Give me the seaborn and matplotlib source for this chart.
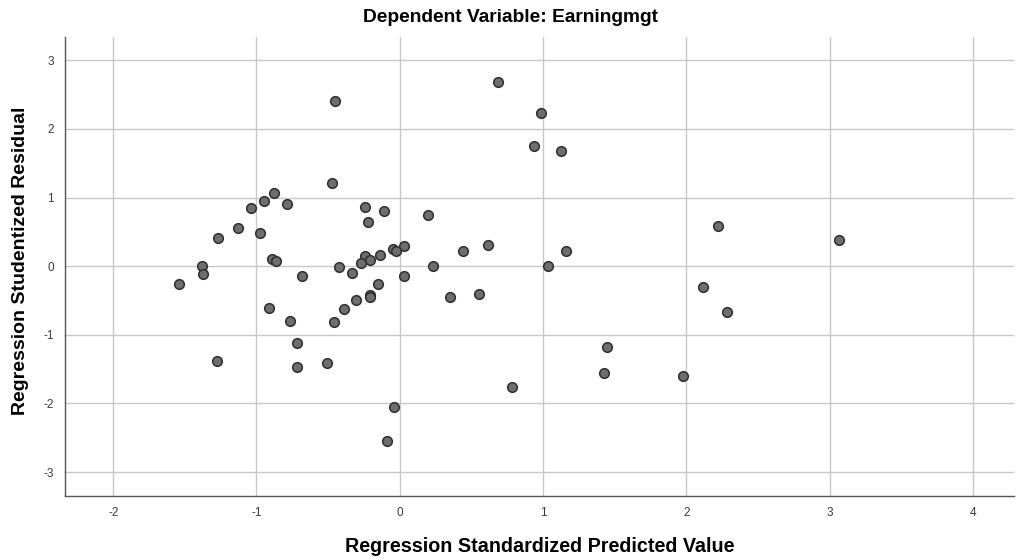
import matplotlib
matplotlib.use("Agg")
import matplotlib.pyplot as plt
import pandas as pd
import seaborn as sns

# Regression standardized predicted value (x) and studentized residual (y)
pred = [-0.451, 0.684, -0.470, -0.877, -0.947, -1.038, -0.786, -0.242, -0.107,
        -0.221, 0.195, -1.130, -0.977, -1.270, 0.028, -0.047, -0.028, -0.140,
        -0.246, -0.207, -0.268, -0.889, -0.865, 0.440, 0.614, -1.382, -0.424,
        0.235, -0.684, -0.335, 0.032, -1.375,
        0.984, 0.939, 1.128, 2.219, 3.066, 1.158, 1.033,
        -1.538, -0.154, -0.209, -0.209, -0.303, -0.387, -0.914, -0.765, -0.458,
        0.349, 0.551, -0.714, -1.277, -0.714, -0.509, 0.782, -0.040, -0.091,
        2.119, 2.284, 1.447, 1.428, 1.975]
resid = [2.41, 2.68, 1.21, 1.07, 0.946, 0.854, 0.912, 0.863, 0.80,
         0.645, 0.738, 0.553, 0.490, 0.403, 0.287, 0.252, 0.214, 0.156,
         0.146, 0.087, 0.044, 0.102, 0.082, 0.218, 0.306, 0.005, -0.01,
         0.0, -0.136, -0.097, -0.141, -0.116,
         2.23, 1.75, 1.68, 0.592, 0.388, 0.223, 0.005,
         -0.267, -0.257, -0.422, -0.456, -0.50, -0.621, -0.616, -0.805, -0.815,
         -0.456, -0.412, -1.125, -1.383, -1.47, -1.412, -1.761, -2.057, -2.547,
         -0.306, -0.665, -1.174, -1.562, -1.606]

x_ticks = [-2, -1, 0, 1, 2, 3, 4]
y_ticks = [-3, -2, -1, 0, 1, 2, 3]

df = pd.DataFrame({"pred": pred, "resid": resid})

sns.set_style("white")
plt.rcParams["font.family"] = ["Liberation Sans", "DejaVu Sans"]
plt.rcParams["text.color"] = "black"
plt.rcParams["axes.labelcolor"] = "black"

fig = plt.figure(figsize=(10.17, 5.58), dpi=100)
ax = fig.add_axes([0.064, 0.112, 0.933, 0.822])

sns.scatterplot(data=df, x="pred", y="resid", ax=ax, s=48,
                color="#6e6e6e", edgecolor="#2e2e2e", linewidth=1.1, zorder=3)

ax.set_xlim(-2.336, 4.287)
ax.set_ylim(-3.34, 3.34)
ax.set_xticks(x_ticks)
ax.set_yticks(y_ticks)
ax.set_xticklabels([str(v) for v in x_ticks])
ax.set_yticklabels([str(v) for v in y_ticks])
ax.grid(True, color="#c8c8c8", linewidth=1.0, zorder=0)
ax.set_axisbelow(True)
ax.tick_params(axis="both", length=0, labelsize=8.5, labelcolor="#3a3a3a", pad=8)

for side in ["top", "right"]:
    ax.spines[side].set_visible(False)
for side in ["left", "bottom"]:
    ax.spines[side].set_color("#555555")
    ax.spines[side].set_linewidth(1.0)

ax.set_xlabel("Regression Standardized Predicted Value", fontsize=14.2,
              fontweight="bold")
ax.set_ylabel("Regression Studentized Residual", fontsize=14.0,
              fontweight="bold")
ax.xaxis.set_label_coords(0.5, -0.112)
ax.yaxis.set_label_coords(-0.047, 0.511)
ax.xaxis.label.set_va("center")
ax.yaxis.label.set_va("center")

fig.text(0.502, 0.983, "Dependent Variable: Earningmgt", ha="center", va="top",
         fontsize=13.8, fontweight="bold")

fig.savefig("out.png", dpi=100)
